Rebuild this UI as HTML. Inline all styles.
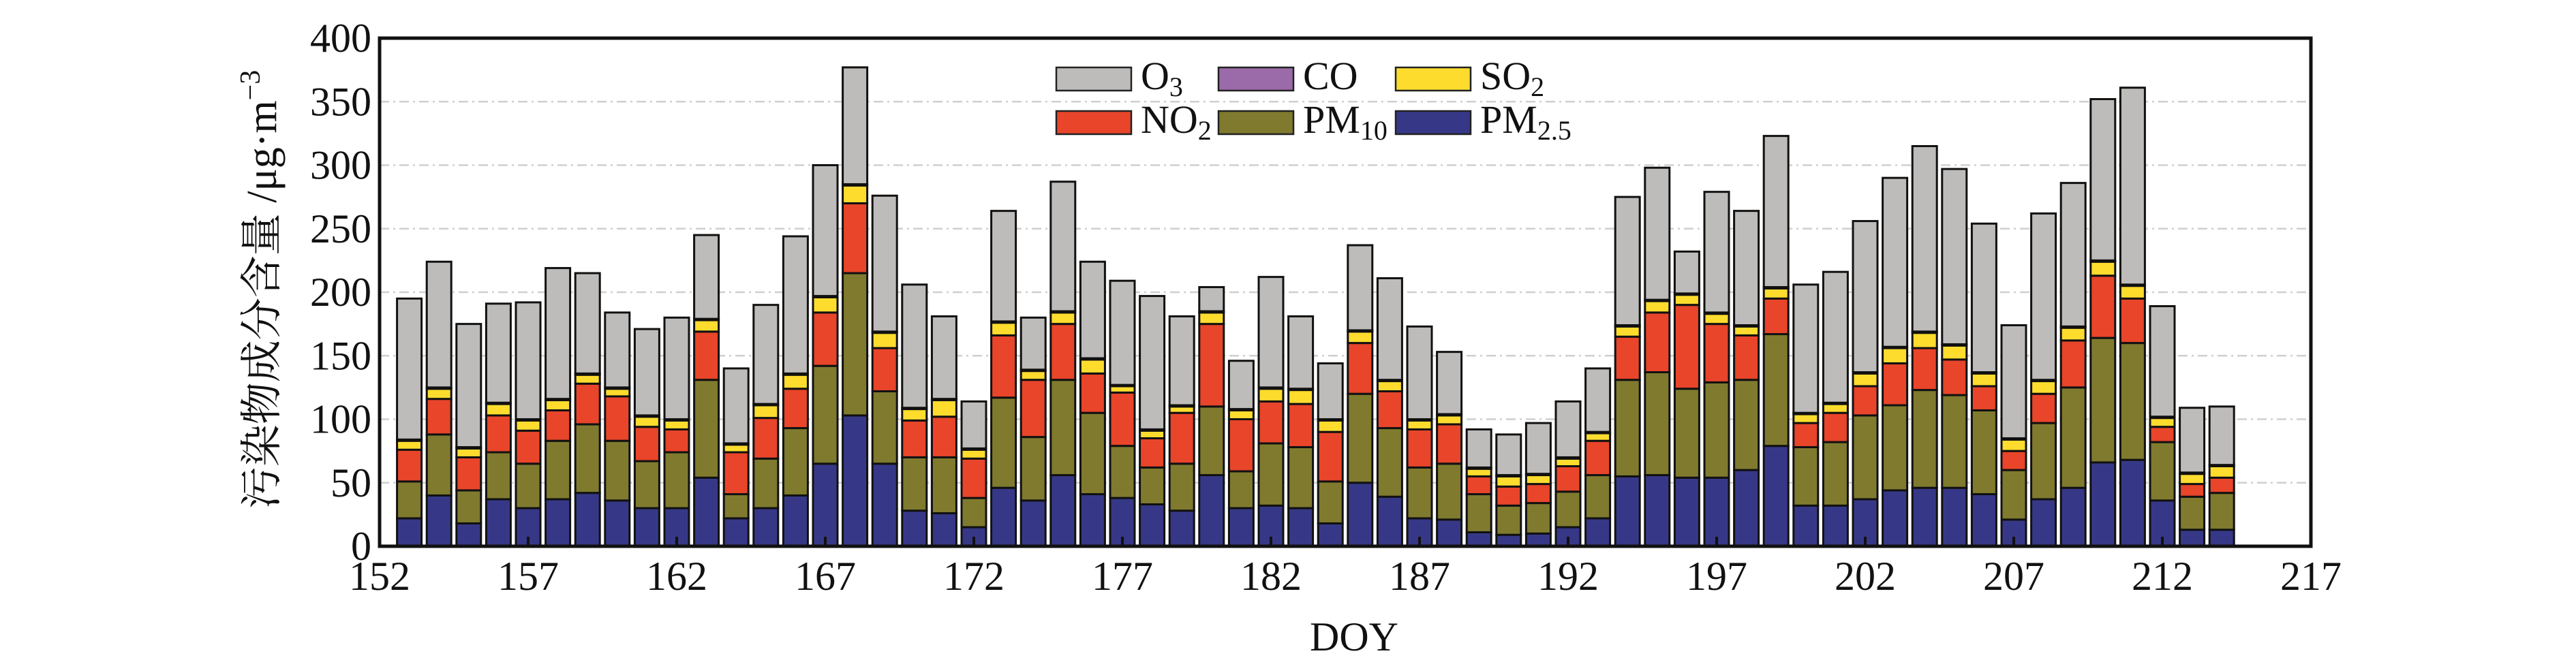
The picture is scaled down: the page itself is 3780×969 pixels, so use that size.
<!DOCTYPE html>
<html><head><meta charset="utf-8"><style>
html,body{margin:0;padding:0;background:#fff;}
svg{display:block;}
text{font-family:"Liberation Serif","Noto Serif CJK SC",serif;fill:#111;}
</style></head><body>
<svg id="chart" width="3780" height="969" viewBox="0 0 3780 969" xmlns="http://www.w3.org/2000/svg">
<g id="grid"></g>
<g id="bars"></g>
<g id="axes"></g>
<text transform="translate(405,425) rotate(-90)" text-anchor="middle" font-size="62">污染物成分含量 /μg·m<tspan dy="-24" font-size="42">−3</tspan></text>
<text x="1987" y="955" text-anchor="middle" font-size="60">DOY</text>
<g id="legend"></g>
</svg>
<script>
const days=[153,154,155,156,157,158,159,160,161,162,163,164,165,166,167,168,169,170,171,172,173,174,175,176,177,178,179,180,181,182,183,184,185,186,187,188,189,190,191,192,193,194,195,196,197,198,199,200,201,202,203,204,205,206,207,208,209,210,211,212,213,214];
const pm25=[22,40,18,37,30,37,42,36,30,30,54,22,30,40,65,103,65,28,26,15,46,36,56,41,38,33,28,56,30,32,30,18,50,39,22,21,11,9,10,15,22,55,56,54,54,60,79,32,32,37,44,46,46,41,21,37,46,66,68,36,13,13];
const pm10=[29,48,26,37,35,46,54,47,37,44,77,19,39,53,77,112,57,42,44,23,71,50,75,64,41,29,37,54,29,49,48,33,70,54,40,44,30,23,24,28,34,76,81,70,75,71,88,46,50,66,67,77,73,66,39,60,79,98,92,46,26,29];
const no2=[25,28,26,29,26,24,32,35,27,18,38,33,32,31,42,55,34,29,32,31,49,45,44,31,42,23,40,65,41,33,34,39,40,29,30,31,14,15,15,20,27,34,47,66,46,35,28,19,23,23,33,33,28,19,15,23,37,49,35,12,10,12];
const so2=[7,8,7,9,8,8,7,6,8,7,9,6,10,11,12,14,12,9,13,7,10,7,9,11,5,6,5,9,7,10,11,9,9,8,7,7,6,8,7,6,6,8,9,8,8,7,8,7,7,10,12,12,11,10,9,10,10,11,10,7,8,9];
const co=[1,1,1,1,1,1,1,1,1,1,1,1,1,1,1,1,1,1,1,1,1,1,1,1,1,1,1,1,1,1,1,1,1,1,1,1,1,1,1,1,1,1,1,1,1,1,1,1,1,1,1,1,1,1,1,1,1,1,1,1,1,1];
const o3=[111,99,97,78,92,103,79,59,68,80,66,59,78,108,103,92,107,97,65,37,87,41,102,76,82,105,70,19,38,87,57,44,67,80,73,49,30,32,40,44,50,101,104,33,95,90,119,101,103,119,133,146,138,117,89,131,113,127,155,87,51,46];
const xTicks=[152,157,162,167,172,177,182,187,192,197,202,207,212,217];
const yTicks=[0,50,100,150,200,250,300,350,400];
const NS="http://www.w3.org/2000/svg";
const X0=557,X1=3391,Y0=802,Y1=56;
function xs(d){return X0+(d-152)/(217-152)*(X1-X0);}
function ys(v){return Y0-v/400*(Y0-Y1);}
function mk(tag,attrs,parent){const e=document.createElementNS(NS,tag);for(const k in attrs)e.setAttribute(k,attrs[k]);parent.appendChild(e);return e;}
const grid=document.getElementById('grid'),bars=document.getElementById('bars'),axes=document.getElementById('axes'),legend=document.getElementById('legend');
yTicks.forEach(v=>{
  if(v>0&&v<400){const l=mk('line',{x1:X0,x2:X1,y1:ys(v),y2:ys(v),stroke:'#cfcfcf','stroke-width':2.5,'stroke-dasharray':'14 6 3 6'},grid);
  
  }
  const t=mk('text',{x:545,y:ys(v)+20,'text-anchor':'end','font-size':60},axes);t.textContent=v;
  
  
});
const series=[['pm25',pm25,'#363887'],['pm10',pm10,'#7f7a2e'],['no2',no2,'#e8452a'],['so2',so2,'#fddc2e'],['co',co,'#9b6aa8'],['o3',o3,'#bebcba']];
const BW=36;
days.forEach((d,i)=>{
  let cum=0;const cx=xs(d);
  series.forEach(([nm,arr,col])=>{
    const v=arr[i];const yTop=ys(cum+v),yB=ys(cum);cum+=v;
    const r=mk('rect',{x:cx-BW/2,y:yTop,width:BW,height:Math.max(0,yB-yTop),fill:col,stroke:'#111','stroke-width':3},bars);
    
    
  });
});
xTicks.forEach(d=>{
  const tk=mk('line',{x1:xs(d),x2:xs(d),y1:Y0,y2:Y0-14,stroke:'#111','stroke-width':4},axes);
  
  
  const t=mk('text',{x:xs(d),y:866,'text-anchor':'middle','font-size':60},axes);t.textContent=d;
  
  
});
const frame=mk('rect',{x:X0,y:Y1,width:X1-X0,height:Y0-Y1,fill:'none',stroke:'#111','stroke-width':5},axes);


const items=[['O',  '3','#bebcba',1550,99],['CO','','#9b6aa8',1788,99],['SO','2','#fddc2e',2048,99],['NO','2','#e8452a',1550,163],['PM','10','#7f7a2e',1788,163],['PM','2.5','#363887',2048,163]];
items.forEach(([a,b,col,x,y])=>{
  const g=mk('g',{},legend);
  
  
  mk('rect',{x:x,y:y,width:110,height:34,fill:col,stroke:'#222','stroke-width':2.5},g);
  const t=mk('text',{x:x+124,y:y+32,'font-size':58},g);
  t.textContent=a;
  if(b){const s=mk('tspan',{dy:10,'font-size':40},t);s.textContent=b;}
});
</script>
</body></html>
